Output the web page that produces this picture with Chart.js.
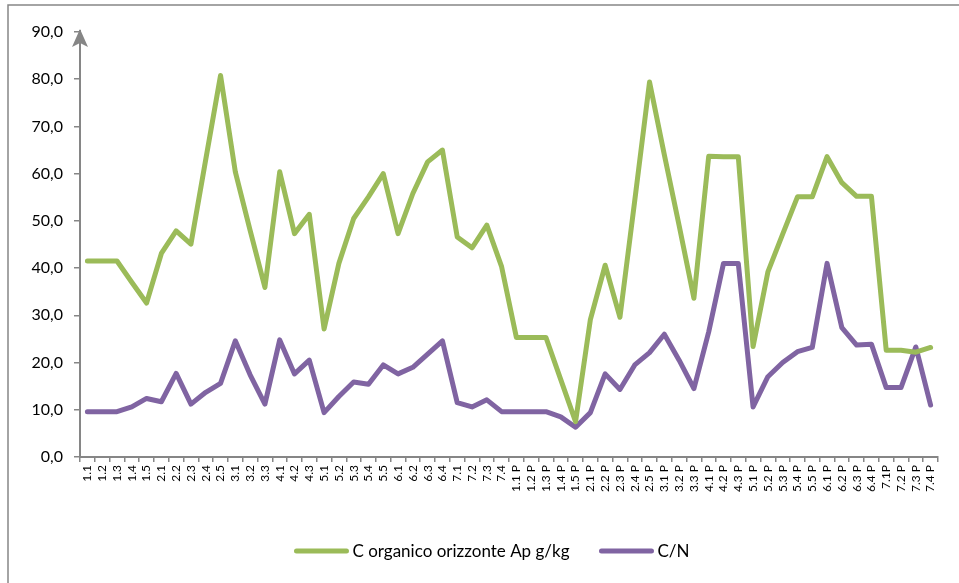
<!DOCTYPE html>
<html>
<head>
<meta charset="utf-8">
<script src="https://cdn.jsdelivr.net/npm/chart.js@4/dist/chart.umd.min.js"></script>
<style>
  html, body { margin: 0; padding: 0; background: #ffffff; }
  #wrap { width: 959px; height: 583px; position: relative; overflow: hidden; }
</style>
</head>
<body>
<div id="wrap"><canvas id="chart" width="959" height="583"></canvas></div>
<script>
// Sample codes along the horizontal axis
const categories = [
  "1.1","1.2","1.3","1.4","1.5","2.1","2.2","2.3","2.4","2.5",
  "3.1","3.2","3.3","4.1","4.2","4.3","5.1","5.2","5.3","5.4","5.5",
  "6.1","6.2","6.3","6.4","7.1","7.2","7.3","7.4",
  "1.1 P","1.2 P","1.3 P","1.4 P","1.5 P","2.1 P","2.2 P","2.3 P","2.4 P","2.5 P",
  "3.1 P","3.2 P","3.3 P","4.1 P","4.2 P","4.3 P","5.1 P","5.2 P","5.3 P","5.4 P","5.5 P",
  "6.1 P","6.2 P","6.3 P","6.4 P","7.1P","7.2 P","7.3 P","7.4 P"
];

// C organico orizzonte Ap (g/kg)
const carbonioOrganico = [
  41.5, 41.5, 41.5, 37.0, 32.6, 43.1, 47.9, 45.1, 63.0, 80.8,
  60.4, 48.0, 35.9, 60.4, 47.3, 51.4, 27.1, 41.0, 50.5, 55.1, 60.0,
  47.3, 55.8, 62.5, 65.0, 46.6, 44.3, 49.1, 40.3,
  25.3, 25.3, 25.3, 16.4, 7.5, 29.1, 40.6, 29.6, 54.3, 79.4,
  64.0, 49.0, 33.6, 63.7, 63.6, 63.6, 23.4, 39.2, 47.2, 55.1, 55.1,
  63.6, 58.1, 55.2, 55.2, 22.6, 22.6, 22.2, 23.2
];

// Rapporto C/N
const rapportoCN = [
  9.6, 9.6, 9.6, 10.6, 12.4, 11.7, 17.7, 11.2, 13.7, 15.6,
  24.6, 17.4, 11.2, 24.8, 17.6, 20.5, 9.4, 12.8, 15.9, 15.4, 19.5,
  17.6, 19.0, 21.8, 24.6, 11.5, 10.6, 12.1, 9.6,
  9.6, 9.6, 9.6, 8.5, 6.3, 9.4, 17.6, 14.3, 19.5, 22.1,
  26.0, 20.5, 14.5, 26.5, 41.0, 41.0, 10.6, 17.0, 20.0, 22.3, 23.2,
  41.0, 27.4, 23.7, 23.9, 14.7, 14.7, 23.3, 11.0
];

// Value axis ticks
const yTicks = [0, 10, 20, 30, 40, 50, 60, 70, 80, 90];

const seriesNames = ["C organico orizzonte Ap g/kg", "C/N"];
const seriesColors = ["#9BBB59", "#8064A2"];
const axisColor = "#868686";
const fontFamily = "Lato, 'Open Sans', 'Liberation Sans', sans-serif";

// Outer frame around the chart
const framePlugin = {
  id: "frame",
  beforeDraw(chart) {
    const ctx = chart.ctx;
    ctx.save();
    ctx.strokeStyle = axisColor;
    ctx.lineWidth = 1.5;
    ctx.strokeRect(8, 5, chart.width + 20, chart.height + 20);
    ctx.restore();
  }
};

// Arrowhead at the top of the value axis
const arrowPlugin = {
  id: "axisArrow",
  afterDraw(chart) {
    const ctx = chart.ctx;
    const x = chart.scales.y.left + chart.scales.y.width;
    const top = chart.chartArea.top;
    ctx.save();
    ctx.strokeStyle = axisColor;
    ctx.lineWidth = 2;
    ctx.beginPath();
    ctx.moveTo(x, top);
    ctx.lineTo(x, top - 2);
    ctx.stroke();
    ctx.fillStyle = axisColor;
    ctx.beginPath();
    ctx.moveTo(x, top - 3);
    ctx.lineTo(x - 8, top + 15);
    ctx.lineTo(x, top + 11);
    ctx.lineTo(x + 8, top + 15);
    ctx.closePath();
    ctx.fill();
    ctx.restore();
  }
};

// Legend row below the chart
const legendPlugin = {
  id: "legendRow",
  afterDraw(chart) {
    const ctx = chart.ctx;
    const y = 551;
    const lineLen = 54, gap = 4, itemGap = 30;
    ctx.save();
    ctx.font = "17px " + fontFamily;
    ctx.textBaseline = "middle";
    const widths = chart.data.datasets.map(d => ctx.measureText(d.label).width);
    let total = 0;
    widths.forEach((w, i) => { total += lineLen + gap + w + (i < widths.length - 1 ? itemGap : 0); });
    let x = 492 - total / 2;
    chart.data.datasets.forEach((d, i) => {
      ctx.strokeStyle = d.borderColor;
      ctx.lineWidth = 5;
      ctx.lineCap = "round";
      ctx.beginPath();
      ctx.moveTo(x + 2, y);
      ctx.lineTo(x + lineLen - 2, y);
      ctx.stroke();
      x += lineLen + gap;
      ctx.fillStyle = "#000000";
      ctx.fillText(d.label, x, y + 1);
      x += widths[i] + itemGap;
    });
    ctx.restore();
  }
};

new Chart(document.getElementById("chart"), {
  type: "line",
  data: {
    labels: categories,
    datasets: [
      {
        label: seriesNames[0],
        data: carbonioOrganico,
        borderColor: seriesColors[0],
        backgroundColor: seriesColors[0],
        borderWidth: 5,
        pointRadius: 0,
        tension: 0,
        borderJoinStyle: "round",
        borderCapStyle: "round"
      },
      {
        label: seriesNames[1],
        data: rapportoCN,
        borderColor: seriesColors[1],
        backgroundColor: seriesColors[1],
        borderWidth: 5,
        pointRadius: 0,
        tension: 0,
        borderJoinStyle: "round",
        borderCapStyle: "round"
      }
    ]
  },
  options: {
    responsive: false,
    animation: false,
    layout: { padding: { left: 10, right: 21, top: 32, bottom: 0 } },
    plugins: {
      legend: { display: false },
      tooltip: { enabled: false }
    },
    scales: {
      x: {
        type: "category",
        offset: true,
        afterFit(scale) { scale.height = 126; },
        grid: {
          offset: true,
          drawOnChartArea: false,
          drawTicks: true,
          tickLength: 5,
          color: axisColor,
          lineWidth: 1.5
        },
        border: { display: true, color: axisColor, width: 2 },
        ticks: {
          autoSkip: false,
          minRotation: 90,
          maxRotation: 90,
          padding: 3,
          color: "#000000",
          font: { family: fontFamily, size: 12 }
        }
      },
      y: {
        min: 0,
        max: 90,
        afterFit(scale) { scale.width = 70; },
        afterBuildTicks(scale) { scale.ticks = yTicks.map(v => ({ value: v })); },
        grid: {
          drawOnChartArea: false,
          drawTicks: true,
          tickLength: 6,
          color: axisColor,
          lineWidth: 1.5
        },
        border: { display: true, color: axisColor, width: 2 },
        ticks: {
          padding: 11,
          color: "#000000",
          font: { family: fontFamily, size: 16 },
          callback: v => v.toFixed(1).replace(".", ",")
        }
      }
    }
  },
  plugins: [framePlugin, arrowPlugin, legendPlugin]
});
</script>
</body>
</html>
